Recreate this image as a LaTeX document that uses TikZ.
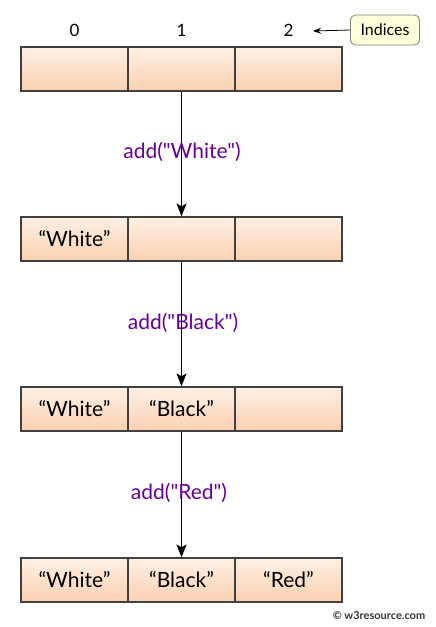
\documentclass[tikz,border=0pt]{standalone}
\usepackage{fontspec}
\setmainfont{Lato}
\newfontfamily\opfont{Lato}[Ligatures=TeXOff]
\usetikzlibrary{arrows.meta}
\definecolor{cellTop}{RGB}{254,240,229}
\definecolor{cellBot}{RGB}{251,208,176}
\definecolor{cellLine}{RGB}{64,64,64}
\definecolor{lblPurple}{RGB}{102,0,153}
\definecolor{tagFill}{RGB}{255,255,217}
\begin{document}
\begin{tikzpicture}[x=1pt,y=-1pt,
  cell/.style={draw=cellLine,line width=1.2pt,top color=cellTop,bottom color=cellBot,
    minimum width=107pt,minimum height=44pt,inner sep=0pt,font=\fontsize{21}{23}\selectfont},
  idx/.style={font=\fontsize{17}{18}\selectfont,inner sep=0pt},
  oplabel/.style={text=lblPurple,font=\opfont\fontsize{21}{23}\selectfont,inner sep=1pt},
  flow/.style={draw=black,line width=1pt,-{Stealth[length=13pt,width=10pt,inset=3pt]}},
  tag/.style={draw=gray,fill=tagFill,rounded corners=5pt,line width=0.8pt,
    minimum width=69pt,minimum height=30pt,inner sep=0pt,font=\fontsize{16}{18}\selectfont}]
\useasboundingbox (0,0) rectangle (436,627);
% indices
\node[idx] (i0) at (74.5,30) {0};
\node[idx] (i1) at (181.5,30) {1};
\node[idx] (i2) at (288.5,30) {2};
\node[tag] (tagbox) at (385,30) {Indices};
\coordinate (tagend) at (313,31);
\draw[line width=0.8pt,-{Stealth[length=8pt,width=6pt]}] (tagbox.west) -- (tagend);
% row 1
\node[cell] (a1) at (74.5,69) {};
\node[cell] (a2) at (181.5,69) {};
\node[cell] (a3) at (288.5,69) {};
% row 2
\node[cell] (b1) at (74.5,239) {“White”};
\node[cell] (b2) at (181.5,239) {};
\node[cell] (b3) at (288.5,239) {};
% row 3
\node[cell] (c1) at (74.5,409) {“White”};
\node[cell] (c2) at (181.5,409) {“Black”};
\node[cell] (c3) at (288.5,409) {};
% row 4
\node[cell] (d1) at (74.5,580) {“White”};
\node[cell] (d2) at (181.5,580) {“Black”};
\node[cell] (d3) at (288.5,580) {“Red”};
% arrows
\draw[flow] (a2.south) -- (b2.north);
\draw[flow] (b2.south) -- (c2.north);
\draw[flow] (c2.south) -- (d2.north);
\node[oplabel] (l1) at (182,152) {add("White")};
\node[oplabel] (l2) at (183,323) {add("Black")};
\node[oplabel] (l3) at (179,493) {add("Red")};
% watermark
\node[font=\fontsize{11}{13}\selectfont\bfseries,text=black!80,inner sep=0pt] (wm) at (379,616) {© w3resource.com};
\end{tikzpicture}
\end{document}
